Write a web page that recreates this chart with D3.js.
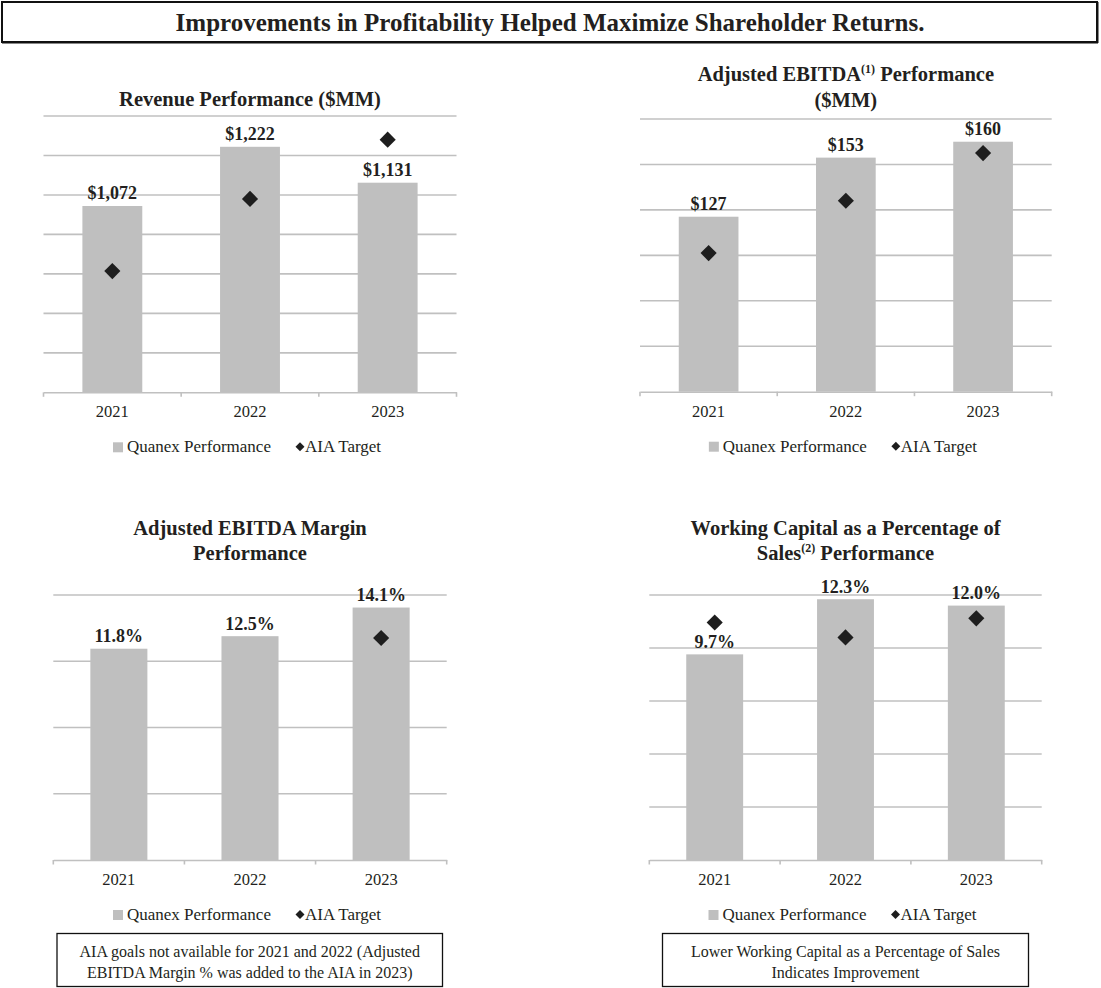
<!DOCTYPE html>
<html>
<head>
<meta charset="utf-8">
<script src="https://cdn.jsdelivr.net/npm/d3@7"></script>
<style>
  html, body { margin: 0; padding: 0; background: #ffffff; }
  svg text { font-family: "Liberation Serif", "Times New Roman", serif; fill: #231f20; }
</style>
</head>
<body>
<svg id="chart" width="1101" height="988"></svg>
<script>
// ---------------- DATA ----------------
const years = ["2021", "2022", "2023"];

const revenueActual = [1072, 1222, 1131];
const revenueTarget = [907, 1090, 1240];
const revenueTicks = [600, 700, 800, 900, 1000, 1100, 1200, 1300];

const ebitdaActual = [127, 153, 160];
const ebitdaTarget = [111, 134, 155];
const ebitdaTicks = [50, 70, 90, 110, 130, 150, 170];

const marginActual = [11.8, 12.5, 14.1];
const marginTarget = [null, null, 12.4];
const marginTicks = [0, 3.7, 7.4, 11.1, 14.8];

const wcActual = [9.7, 12.3, 12.0];
const wcTarget = [11.2, 10.5, 11.4];
const wcTicks = [0, 2.5, 5, 7.5, 10, 12.5];

const mainTitle = "Improvements in Profitability Helped Maximize Shareholder Returns.";
const legendLabels = ["Quanex Performance", "AIA Target"];
const note1 = ["AIA goals not available for 2021 and 2022 (Adjusted", "EBITDA Margin % was added to the AIA in 2023)"];
const note2 = ["Lower Working Capital as a Percentage of Sales", "Indicates Improvement"];

// ---------------- DRAW ----------------
const svg = d3.select("#chart");
const BAR = "#bfbfbf", GRID = "#c0c0c0", MARK = "#1e1e1e";

// main title box
svg.append("rect").attr("x", 2).attr("y", 2).attr("width", 1095).attr("height", 40)
  .attr("fill", "#fff").attr("stroke", "#111").attr("stroke-width", 2);
svg.append("line").attr("x1", 2).attr("x2", 1098).attr("y1", 42.5).attr("y2", 42.5)
  .attr("stroke", "#111").attr("stroke-width", 2);
svg.append("line").attr("x1", 1097.5).attr("x2", 1097.5).attr("y1", 2).attr("y2", 43)
  .attr("stroke", "#111").attr("stroke-width", 2);
svg.append("text").attr("x", 550).attr("y", 31).attr("text-anchor", "middle")
  .attr("font-size", 25).attr("font-weight", "bold").text(mainTitle);

function drawChart(cfg) {
  const g = svg.append("g");
  const x = d3.scaleBand().domain(years).range([cfg.x0, cfg.x1]).padding(0);
  const y = d3.scaleLinear().domain([cfg.ticks[0], cfg.ticks[cfg.ticks.length - 1]])
    .range([cfg.yb, cfg.yt]);

  // title
  cfg.title.forEach((line, i) => {
    const t = g.append("text").attr("x", (cfg.x0 + cfg.x1) / 2).attr("y", cfg.titleY + i * cfg.titleGap)
      .attr("text-anchor", "middle").attr("font-size", 20.5).attr("font-weight", "bold");
    let pending = 0;
    line.forEach(part => {
      if (part.sup) {
        t.append("tspan").attr("font-size", 12).attr("dy", -8).text(part.t);
        pending = 8;
      } else {
        const s = t.append("tspan").text(part.t);
        if (pending) { s.attr("dy", pending); pending = 0; }
      }
    });
  });

  // gridlines (excluding baseline)
  g.append("g").selectAll("line").data(cfg.ticks.slice(1)).join("line")
    .attr("x1", cfg.x0).attr("x2", cfg.x1)
    .attr("y1", d => y(d)).attr("y2", d => y(d))
    .attr("stroke", GRID).attr("stroke-width", 1.6);

  // x axis
  const ax = g.append("g").attr("transform", `translate(0,${cfg.yb})`)
    .call(d3.axisBottom(x).tickSize(0).tickPadding(0).tickFormat(""));
  ax.select(".domain").attr("stroke", GRID).attr("stroke-width", 1.6);
  ax.selectAll(".tick").remove();
  const edges = years.map(d => x(d)).concat([x(years[years.length - 1]) + x.bandwidth()]);
  g.append("g").selectAll("line").data(edges).join("line")
    .attr("x1", d => d).attr("x2", d => d).attr("y1", cfg.yb).attr("y2", cfg.yb + 4.5)
    .attr("stroke", GRID).attr("stroke-width", 1.6);
  g.append("g").selectAll("text").data(years).join("text")
    .attr("x", d => x(d) + x.bandwidth() / 2).attr("y", cfg.yb + 25)
    .attr("text-anchor", "middle").attr("font-size", 16.5).text(d => d);

  // bars
  const bw = x.bandwidth() * 0.435;
  g.append("g").selectAll("rect").data(cfg.actual).join("rect")
    .attr("x", (d, i) => x(years[i]) + (x.bandwidth() - bw) / 2)
    .attr("y", d => y(d)).attr("width", bw).attr("height", d => cfg.yb - y(d))
    .attr("fill", BAR);

  // data labels
  g.append("g").selectAll("text").data(cfg.actual).join("text")
    .attr("x", (d, i) => x(years[i]) + x.bandwidth() / 2)
    .attr("y", d => y(d) - 6.5)
    .attr("text-anchor", "middle").attr("font-size", 18).attr("font-weight", "bold")
    .text(d => cfg.fmt(d));

  // target diamonds
  const sym = d3.symbol(d3.symbolSquare, 130);
  g.append("g").selectAll("path").data(cfg.target.map((v, i) => ({ v, i })).filter(d => d.v != null)).join("path")
    .attr("d", sym)
    .attr("transform", d => `translate(${x(years[d.i]) + x.bandwidth() / 2},${y(d.v)}) rotate(45)`)
    .attr("fill", MARK);

  // legend
  const cx = (cfg.x0 + cfg.x1) / 2;
  const ly = cfg.yb + 60;
  const lg = g.append("g");
  const lx0 = cx - 137;
  lg.append("rect").attr("x", lx0).attr("y", ly - 10).attr("width", 10).attr("height", 10).attr("fill", BAR);
  lg.append("text").attr("x", lx0 + 14).attr("y", ly).attr("font-size", 17).text(legendLabels[0]);
  lg.append("path").attr("d", d3.symbol(d3.symbolSquare, 40))
    .attr("transform", `translate(${lx0 + 187},${ly - 5.5}) rotate(45)`).attr("fill", MARK);
  lg.append("text").attr("x", lx0 + 192).attr("y", ly).attr("font-size", 17).text(legendLabels[1]);
}

const fmtMoney = d3.format("$,");
const fmtPct = d => d3.format(".1f")(d) + "%";

drawChart({ x0: 43.5, x1: 456.5, yt: 116, yb: 392.3, ticks: revenueTicks,
  actual: revenueActual, target: revenueTarget, fmt: fmtMoney,
  title: [[{ t: "Revenue Performance ($MM)" }]], titleY: 105.5, titleGap: 26 });

drawChart({ x0: 640, x1: 1051.7, yt: 119, yb: 391.7, ticks: ebitdaTicks,
  actual: ebitdaActual, target: ebitdaTarget, fmt: fmtMoney,
  title: [[{ t: "Adjusted EBITDA" }, { t: "(1)", sup: true }, { t: " Performance" }], [{ t: "($MM)" }]],
  titleY: 80.7, titleGap: 26 });

drawChart({ x0: 53.3, x1: 446.7, yt: 595, yb: 860, ticks: marginTicks,
  actual: marginActual, target: marginTarget, fmt: fmtPct,
  title: [[{ t: "Adjusted EBITDA Margin" }], [{ t: "Performance" }]], titleY: 535, titleGap: 24.5 });

drawChart({ x0: 649.3, x1: 1041.7, yt: 595, yb: 860, ticks: wcTicks,
  actual: wcActual, target: wcTarget, fmt: fmtPct,
  title: [[{ t: "Working Capital as a Percentage of" }], [{ t: "Sales" }, { t: "(2)", sup: true }, { t: " Performance" }]],
  titleY: 535, titleGap: 24.5 });

// note boxes
function noteBox(x0, x1, lines) {
  svg.append("rect").attr("x", x0).attr("y", 933.5).attr("width", x1 - x0).attr("height", 53)
    .attr("fill", "none").attr("stroke", "#111").attr("stroke-width", 1.3);
  lines.forEach((l, i) => {
    svg.append("text").attr("x", (x0 + x1) / 2).attr("y", 956.5 + i * 21.5)
      .attr("text-anchor", "middle").attr("font-size", 16).text(l);
  });
}
noteBox(57, 442.5, note1);
noteBox(662.5, 1028.5, note2);
</script>
</body>
</html>
